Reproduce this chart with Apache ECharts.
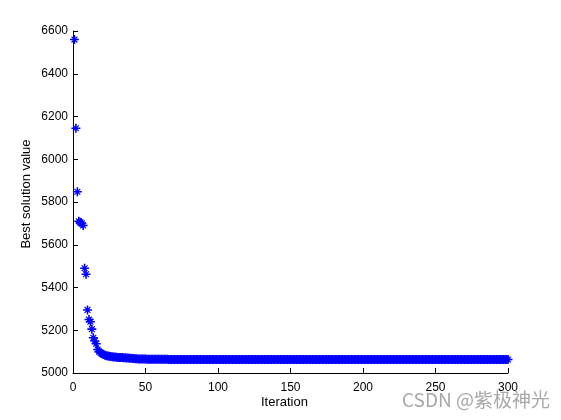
<!DOCTYPE html>
<html>
<head>
<meta charset="utf-8">
<script src="https://cdn.jsdelivr.net/npm/echarts@6/dist/echarts.min.js"></script>
<style>html,body{margin:0;padding:0;background:#fff;}#c{width:561px;height:420px;}</style>
</head>
<body>
<div id="c"></div>
<script>
// Best solution value per iteration (iterations 1..300)
const bestValues = [
6560,6145,5848,5710,5705,5700,5690,5490,5462,5295,
5250,5240,5205,5165,5150,5137,5110,5100,5095,5090,
5086,5083,5081,5079,5078,5077,5076,5075,5075,5074,
5073,5073,5072,5072,5071,5071,5070,5070,5069,5069,
5068,5068,5067,5067,5066,5066,5066,5065,5065,5065,
5064,5064,5064,5064,5064,5064,5064,5064,5064,5064,
5064,5064,5064,5064,5064,5063,5063,5063,5063,5063,
5063,5063,5063,5063,5063,5063,5063,5063,5063,5063,
5063,5063,5063,5063,5063,5063,5063,5063,5063,5063,
5063,5063,5063,5063,5063,5063,5063,5063,5063,5063,
5063,5063,5063,5063,5063,5063,5063,5063,5063,5063,
5063,5063,5063,5063,5063,5063,5063,5063,5063,5063,
5063,5063,5063,5063,5063,5063,5063,5063,5063,5063,
5063,5063,5063,5063,5063,5063,5063,5063,5063,5063,
5063,5063,5063,5063,5063,5063,5063,5063,5063,5063,
5063,5063,5063,5063,5063,5063,5063,5063,5063,5063,
5063,5063,5063,5063,5063,5063,5063,5063,5063,5063,
5063,5063,5063,5063,5063,5063,5063,5063,5063,5063,
5063,5063,5063,5063,5063,5063,5063,5063,5063,5063,
5063,5063,5063,5063,5063,5063,5063,5063,5063,5063,
5063,5063,5063,5063,5063,5063,5063,5063,5063,5063,
5063,5063,5063,5063,5063,5063,5063,5063,5063,5063,
5063,5063,5063,5063,5063,5063,5063,5063,5063,5063,
5063,5063,5063,5063,5063,5063,5063,5063,5063,5063,
5063,5063,5063,5063,5063,5063,5063,5063,5063,5063,
5063,5063,5063,5063,5063,5063,5063,5063,5063,5063,
5063,5063,5063,5063,5063,5063,5063,5063,5063,5063,
5063,5063,5063,5063,5063,5063,5063,5063,5063,5063,
5063,5063,5063,5063,5063,5063,5063,5063,5063,5063,
5063,5063,5063,5063,5063,5063,5063,5063,5063,5063
];
const xTicks = [0, 50, 100, 150, 200, 250, 300];
const yTicks = [5000, 5200, 5400, 5600, 5800, 6000, 6200, 6400, 6600];
const xLabel = 'Iteration';
const yLabel = 'Best solution value';
const watermark = 'CSDN @紫极神光';

const points = bestValues.map((v, i) => [i + 1, v]);
const starPath = 'path://M0,4.1H10V5.9H0Z M4.1,0H5.9V10H4.1Z M2.2,1.3L8.7,7.8L7.8,8.7L1.3,2.2Z M7.8,1.3L8.7,2.2L2.2,8.7L1.3,7.8Z';
const font = '"Liberation Sans", Arial, sans-serif';

const chart = echarts.init(document.getElementById('c'), null, {renderer: 'canvas'});
chart.setOption({
  animation: false,
  backgroundColor: '#ffffff',
  grid: {left: 73, right: 53, top: 31, bottom: 47, containLabel: false},
  xAxis: {
    type: 'value',
    min: xTicks[0], max: xTicks[xTicks.length - 1], interval: 50,
    axisLine: {show: true, lineStyle: {color: '#000', width: 1}},
    axisTick: {show: true, inside: true, length: 5, lineStyle: {color: '#000'}},
    axisLabel: {color: '#000', fontSize: 12, fontFamily: font, margin: 9, formatter: v => String(v)},
    splitLine: {show: false}
  },
  yAxis: {
    type: 'value',
    min: yTicks[0], max: yTicks[yTicks.length - 1], interval: 200,
    axisLine: {show: true, lineStyle: {color: '#000', width: 1}},
    axisTick: {show: true, inside: true, length: 5, lineStyle: {color: '#000'}},
    axisLabel: {color: '#000', fontSize: 12, fontFamily: font, margin: 5, formatter: v => String(v)},
    splitLine: {show: false}
  },
  graphic: [
    {type: 'text', left: 261, top: 396, style: {text: xLabel, fill: '#000', font: '13px ' + font}},
    {type: 'text', x: 20, y: 194, rotation: Math.PI / 2, style: {text: yLabel, fill: '#000', font: '13px ' + font, align: 'center', verticalAlign: 'top'}},
    {type: 'text', left: 402, top: 390, style: {text: watermark, fill: '#a8a8a8', font: '19px "Noto Sans CJK SC", ' + font}}
  ],
  series: [{
    type: 'scatter',
    data: points,
    symbol: starPath,
    symbolSize: 9,
    itemStyle: {color: '#0000ff', opacity: 1}
  }]
});
</script>
</body>
</html>
